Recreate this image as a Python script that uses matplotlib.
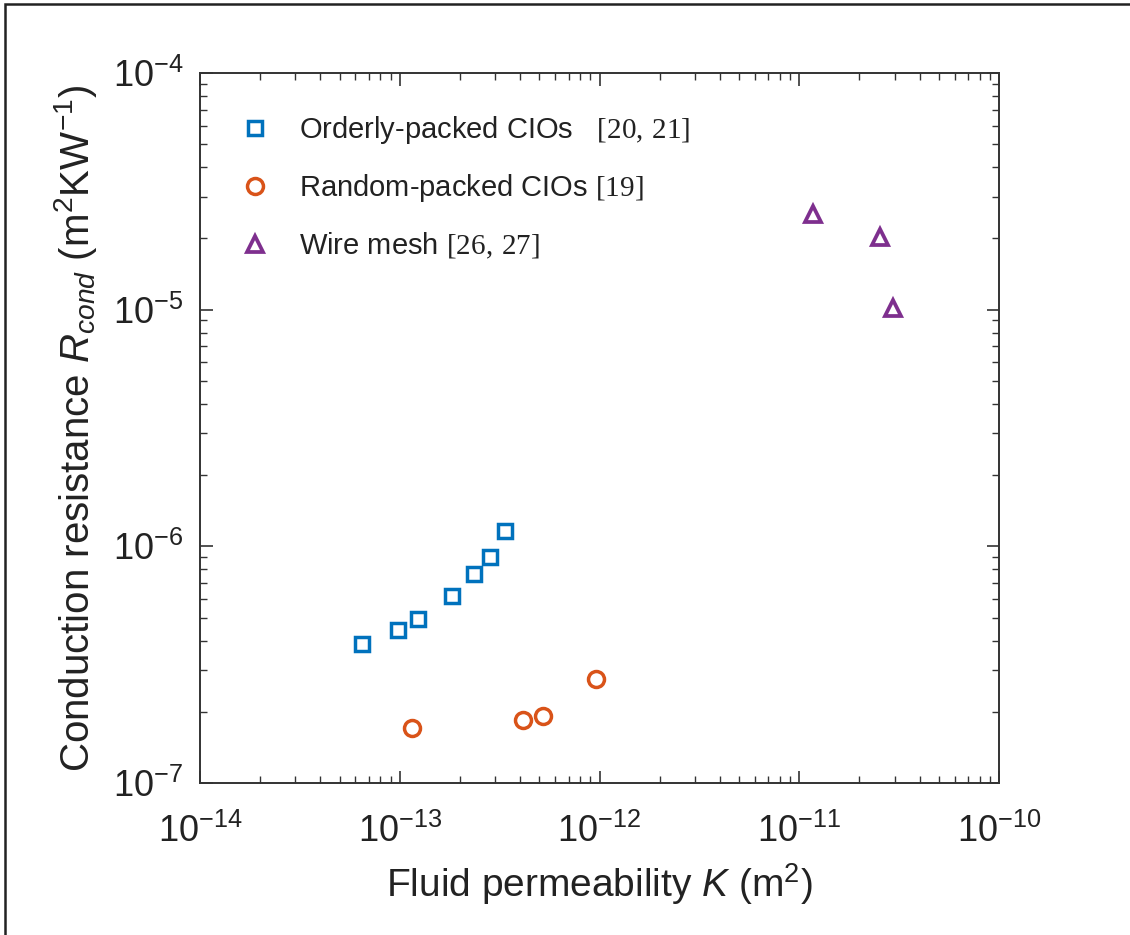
import matplotlib
matplotlib.use("Agg")
import matplotlib.pyplot as plt
from matplotlib.patches import Rectangle
from matplotlib.ticker import LogLocator, LogFormatterMathtext, NullFormatter

plt.rcParams['font.family'] = ['Liberation Sans', 'DejaVu Sans']
plt.rcParams['mathtext.fontset'] = 'custom'
plt.rcParams['mathtext.rm'] = 'Liberation Serif'
plt.rcParams['mathtext.it'] = 'Liberation Sans:italic'
plt.rcParams['mathtext.sf'] = 'Liberation Sans'

# Data
orderly_K = [6.5e-14, 9.8e-14, 1.23e-13, 1.82e-13, 2.34e-13, 2.82e-13, 3.35e-13]
orderly_R = [3.87e-7, 4.44e-7, 4.93e-7, 6.17e-7, 7.64e-7, 9.0e-7, 1.16e-6]
random_K = [1.15e-13, 4.12e-13, 5.19e-13, 9.66e-13]
random_R = [1.71e-7, 1.85e-7, 1.92e-7, 2.75e-7]
mesh_K = [1.17e-11, 2.54e-11, 2.95e-11]
mesh_R = [2.53e-5, 2.03e-5, 1.02e-5]

labels = ["Orderly-packed CIOs   $[20,\\,21]$",
          "Random-packed CIOs $[19]$",
          "Wire mesh $[26,\\,27]$"]
colors = ["#0072BD", "#D95319", "#7E2F8E"]

W, H = 1130, 935
fig = plt.figure(figsize=(W / 100, H / 100), dpi=100)
fig.patch.set_facecolor('white')

# outer frame (top and left visible)
fig.patches.append(Rectangle((5 / W, -0.1), 2.0, 1 - 4 / H + 0.1,
                             transform=fig.transFigure, fill=False,
                             edgecolor='#222222', linewidth=1.8, zorder=0))

ax = fig.add_axes([200 / W, (H - 783) / H, 799 / W, 710 / H])
ax.set_xscale('log')
ax.set_yscale('log')

ax.plot(orderly_K, orderly_R, 's', ms=9.5, mfc='none', mec=colors[0], mew=2.5, label=labels[0])
ax.plot(random_K, random_R, 'o', ms=11.5, mfc='none', mec=colors[1], mew=2.5, label=labels[1])
ax.plot(mesh_K, mesh_R, '^', ms=12, mfc='none', mec=colors[2], mew=2.7, label=labels[2])

ax.set_xlim(1e-14, 1e-10)
ax.set_ylim(1e-7, 1e-4)

for a in (ax.xaxis, ax.yaxis):
    a.set_major_locator(LogLocator(base=10, numticks=10))
    a.set_minor_locator(LogLocator(base=10, subs=range(2, 10), numticks=10))
    a.set_major_formatter(LogFormatterMathtext())
    a.set_minor_formatter(NullFormatter())

ax.tick_params(which='both', direction='in', top=True, right=True,
               color='#333333', labelsize=26, labelcolor='#222222')
ax.tick_params(which='major', length=9, width=1.2)
ax.tick_params(which='minor', length=5, width=1.0)
ax.tick_params(axis='x', which='major', pad=22)
ax.tick_params(axis='y', which='major', pad=12)
for s in ax.spines.values():
    s.set_color('#333333')
    s.set_linewidth(1.4)

ax.set_xlabel("Fluid permeability $K$ (m$^{\\mathsf{2}}$)", fontsize=28, color='#222222', labelpad=8)
ax.set_ylabel("Conduction resistance $R_{cond}$ (m$^{\\mathsf{2}}$KW$^{\\mathsf{-1}}$)",
              fontsize=29, color='#222222', labelpad=10)

leg = ax.legend(loc='upper left', frameon=False, fontsize=21, handletextpad=0.9,
                labelspacing=0.9, borderaxespad=0.0, handlelength=1.2,
                bbox_to_anchor=(0.0325, 0.959))
for t in leg.get_texts():
    t.set_color('#222222')

fig.savefig("out.png", dpi=100, facecolor='white')
